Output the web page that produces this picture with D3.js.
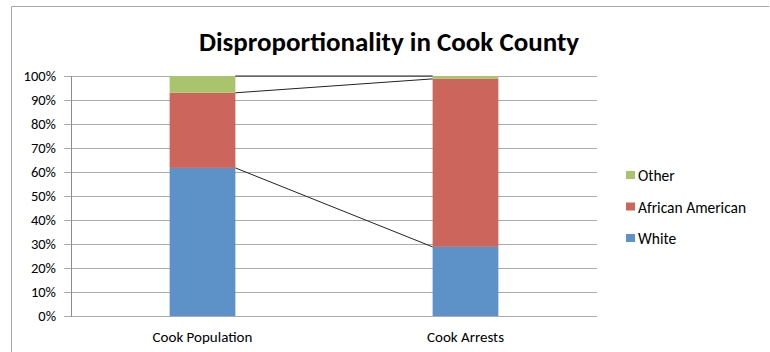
<!DOCTYPE html>
<html>
<head>
<meta charset="utf-8">
<script src="https://cdn.jsdelivr.net/npm/d3@7/dist/d3.min.js"></script>
<style>
  body { margin: 0; background: #fff; }
  text { font-family: Carlito, Calibri, Lato, "Open Sans", sans-serif; fill: #000; }
</style>
</head>
<body>
<div id="chart"></div>
<script>
// chart data (percent of each column)
const categories = ["Cook Population", "Cook Arrests"];
const seriesNames = ["White", "African American", "Other"];
const white = [61.7, 28.8];
const africanAmerican = [31.3, 70.0];
const other = [7.0, 1.2];
const yTicks = [0, 10, 20, 30, 40, 50, 60, 70, 80, 90, 100];
const colors = ["#5c92c8", "#cc665c", "#a9c46c"];

const width = 770, height = 352;
const margin = { left: 71, right: 173, top: 76, bottom: 36 };

const svg = d3.select("#chart").append("svg")
    .attr("width", width)
    .attr("height", height);

// outer chart border (Excel-like frame)
svg.append("path")
    .attr("d", "M11.5,352 V6.5 H769")
    .attr("fill", "none")
    .attr("stroke", "#a6a6a6")
    .attr("stroke-width", 1);

// title
svg.append("text")
    .attr("x", 389)
    .attr("y", 51)
    .attr("text-anchor", "middle")
    .style("font-size", "27px")
    .style("font-weight", "bold")
    .text("Disproportionality in Cook County");

const x = d3.scaleBand()
    .domain(categories)
    .range([margin.left, width - margin.right]);

const y = d3.scaleLinear()
    .domain([0, 100])
    .range([height - margin.bottom, margin.top]);

const barWidth = x.bandwidth() * 0.25;

// gridlines
svg.append("g")
    .selectAll("line")
    .data(yTicks)
    .enter()
    .append("line")
    .attr("x1", margin.left - 7)
    .attr("x2", width - margin.right)
    .attr("y1", d => Math.round(y(d)) + 0.5)
    .attr("y2", d => Math.round(y(d)) + 0.5)
    .attr("stroke", "#ababab")
    .attr("stroke-width", 1);

// y axis line
svg.append("line")
    .attr("x1", margin.left + 0.5)
    .attr("x2", margin.left + 0.5)
    .attr("y1", y(100))
    .attr("y2", y(0) + 1)
    .attr("stroke", "#8c8c8c");

// y labels
svg.append("g")
    .selectAll("text")
    .data(yTicks)
    .enter()
    .append("text")
    .attr("x", margin.left - 15)
    .attr("y", d => y(d))
    .attr("dy", "0.35em")
    .attr("text-anchor", "end")
    .style("font-size", "14.5px")
    .text(d => d + "%");

// stacked data
const table = categories.map((c, i) => ({
    category: c,
    "White": white[i],
    "African American": africanAmerican[i],
    "Other": other[i]
}));
const stacked = d3.stack().keys(seriesNames)(table);

svg.append("g")
    .selectAll("g")
    .data(stacked)
    .enter()
    .append("g")
    .attr("fill", (d, i) => colors[i])
    .selectAll("rect")
    .data(d => d)
    .enter()
    .append("rect")
    .attr("x", d => x(d.data.category) + (x.bandwidth() - barWidth) / 2)
    .attr("width", barWidth)
    .attr("y", d => y(d[1]))
    .attr("height", d => y(d[0]) - y(d[1]));

// series lines between the two columns
svg.append("g")
    .selectAll("line")
    .data(stacked)
    .enter()
    .append("line")
    .attr("x1", x(categories[0]) + (x.bandwidth() + barWidth) / 2)
    .attr("x2", x(categories[1]) + (x.bandwidth() - barWidth) / 2)
    .attr("y1", d => y(d[0][1]))
    .attr("y2", d => y(d[1][1]))
    .attr("stroke", "#222")
    .attr("stroke-width", 1);

// category labels
svg.append("g")
    .selectAll("text")
    .data(categories)
    .enter()
    .append("text")
    .attr("x", d => x(d) + x.bandwidth() / 2)
    .attr("y", height - margin.bottom + 26)
    .attr("text-anchor", "middle")
    .style("font-size", "15px")
    .text(d => d);

// legend (reverse order: Other on top)
const legendItems = seriesNames.map((n, i) => ({ name: n, color: colors[i] })).reverse();
const legend = svg.append("g")
    .selectAll("g")
    .data(legendItems)
    .enter()
    .append("g")
    .attr("transform", (d, i) => `translate(626,${171 + i * 31.5})`);

legend.append("rect")
    .attr("width", 9)
    .attr("height", 8)
    .attr("fill", d => d.color);

legend.append("text")
    .attr("x", 12)
    .attr("y", 4)
    .attr("dy", "0.4em")
    .style("font-size", "15.5px")
    .text(d => d.name);
</script>
</body>
</html>
